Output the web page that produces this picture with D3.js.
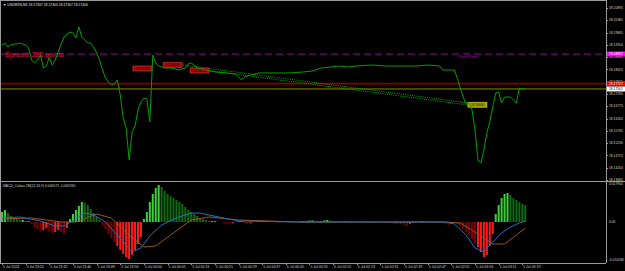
<!DOCTYPE html>
<html>
<head>
<meta charset="utf-8">
<script src="https://d3js.org/d3.v7.min.js"></script>
<style>
  body{margin:0;background:#000;}
  svg{display:block;font-family:"Liberation Sans", Arial, sans-serif;}
</style>
</head>
<body>
<svg id="chartSVG" width="625" height="271"></svg>
<script>
// ---- data ----
var symbolHeader = "\u25BC USDMXN,M1  18.17307 18.17400 18.17307 18.17400";
var macdHeader = "MACD_Colour 2M(12,26,9) 0.000571 -0.001930";
var spreadText = "Spread: 226 points";
var pivotText = "Pivot Point";

var timeLabels = ["5 Jul 2024", "5 Jul 23:24", "5 Jul 23:32", "5 Jul 23:40", "5 Jul 23:48", "5 Jul 23:56",
    "5 Jul 00:00", "5 Jul 00:05", "5 Jul 00:13", "5 Jul 00:21", "5 Jul 00:29", "5 Jul 00:37", "5 Jul 00:45",
    "5 Jul 00:53", "5 Jul 02:15", "5 Jul 02:23", "5 Jul 02:31", "5 Jul 02:39", "5 Jul 02:47", "5 Jul 02:55",
    "5 Jul 03:03", "5 Jul 03:11", "5 Jul 03:19"];
var barsPerLabel = 8;

var priceTicks = [18.20895, 18.20380, 18.19865, 18.19350, 18.18835, 18.18320, 18.17805, 18.17290,
    18.16775, 18.16260, 18.15745, 18.15230, 18.14715, 18.14200, 18.13685];

// [bar, close]
var closeSeries = [[0,18.19344],[1,18.19428],[2,18.19261],[3,18.19344],[4,18.19386],[5,18.19386],[6,18.19428],
    [7,18.19386],[8,18.19344],[9,18.19219],[10,18.18716],[11,18.18590],[12,18.18716],[13,18.18925],[14,18.18381],
    [15,18.18464],[16,18.18842],[17,18.18506],[18,18.18716],[19,18.19051],[20,18.19386],[21,18.19680],[22,18.19805],
    [23,18.19889],[24,18.19847],[25,18.19638],[26,18.20099],[27,18.19680],[28,18.19554],[29,18.19428],[30,18.19428],
    [31,18.19261],[32,18.19009],[33,18.18716],[34,18.18297],[35,18.17962],[36,18.17794],[37,18.17668],[38,18.17710],
    [39,18.17878],[40,18.17249],[41,18.16285],[42,18.15866],[43,18.14525],[44,18.15699],[45,18.15950],[46,18.16621],
    [47,18.16956],[48,18.17123],[49,18.17082],[50,18.16118],[51,18.18925],[52,18.18590],[53,18.18464],[54,18.18422],
    [55,18.18381],[57,18.18381],[60,18.18297],[62,18.18381],[63,18.18548],[64,18.18590],[65,18.18506],[66,18.18381],
    [69,18.18297],[72,18.18213],[76,18.18171],[79,18.18129],[81,18.17878],[82,18.18003],[84,18.18087],[87,18.18171],
    [92,18.18171],[97,18.18171],[102,18.18213],[105,18.18255],[108,18.18381],[111,18.18422],[114,18.18464],
    [117,18.18422],[120,18.18464],[125,18.18506],[130,18.18464],[135,18.18464],[140,18.18464],[144,18.18506],
    [148,18.18464],[149,18.18297],[153,18.18297],[154,18.17962],[155,18.17542],[156,18.17165],[157,18.16872],
    [158,18.16914],[159,18.16621],[160,18.15783],[161,18.14525],[162,18.14400],[163,18.14944],[164,18.15657],
    [165,18.16118],[166,18.16746],[167,18.17333],[168,18.17375],[169,18.16914],[170,18.17165],[172,18.17165],
    [174,18.16914],[175,18.17542],[176,18.17501],[177,18.17501]];

var askPrice = 18.17727;
var bidPrice = 18.17501;
var pivotPrice = 18.18967;

// trade price labels [bar, price, text]
var openLabels = [[44.3, 18.18360, "18.18360"], [54.5, 18.18506, "18.18506"], [63.6, 18.18276, "18.18276"]];
var closeLabels = [[157.6, 18.16840, "18.16840"]];
// trade history lines [openBar, openPrice, closeBar, closePrice]
var tradeLines = [[61.2, 18.18506, 157.6, 18.16914], [69.7, 18.18276, 157.6, 18.16830]];

// MACD histogram, one value per bar
var histValues = [0.00471,0.00565,0.00424,0.00283,0.00188,0.00141,0.00094,0.00094,0.00047,0.00047,
    -0.00094,-0.00236,-0.00330,-0.00424,-0.00377,-0.00283,-0.00424,-0.00518,-0.00471,-0.00377,
    -0.00471,-0.00565,-0.00283,0.00141,0.00377,0.00565,0.00754,0.00942,0.00895,0.00801,
    0.00612,0.00424,0.00236,0.00094,-0.00141,-0.00330,-0.00565,-0.00754,-0.00942,-0.01130,
    -0.01319,-0.01507,-0.01649,-0.01743,-0.01554,-0.01319,-0.01036,-0.00707,0.00141,0.00471,
    0.00942,0.01319,0.01601,0.01743,0.01649,0.01460,0.01319,0.01225,0.01130,0.01036,
    0.00942,0.00848,0.00707,0.00565,0.00471,0.00377,0.00283,0.00188,0.00141,0.00094,
    0.00047,0.00047,0.00047,0.00024,0,-0.00047,-0.00047,-0.00094,-0.00047,0,
    0.00047,0.00047,-0.00047,-0.00094,-0.00047,0,0,0.00024,0.00047,0.00047,
    0.00024,0,0,-0.00024,-0.00024,0,0.00024,0.00024,0,0,
    0,0.00024,0.00047,0.00047,0.00071,0.00071,0.00047,0.00024,0.00047,0.00071,
    0.00094,0.00071,0.00047,0.00024,0,0,0.00024,0,-0.00024,0,
    0,0.00024,0,0,-0.00024,-0.00024,0,0,0,-0.00024,
    -0.00047,-0.00047,-0.00071,-0.00094,-0.00094,-0.00094,-0.00141,-0.00141,-0.00094,-0.00047,
    0,0,0.00047,0,0,-0.00047,0,0,-0.00047,-0.00047,
    -0.00094,-0.00141,-0.00094,-0.00047,-0.00094,-0.00188,-0.00330,-0.00471,-0.00612,-0.00801,
    -0.00989,-0.01178,-0.01413,-0.01649,-0.01554,-0.01130,-0.00565,0.00377,0.00801,0.01130,
    0.01319,0.01366,0.01272,0.01130,0.01036,0.00942,0.00848,0.00801];

// [bar, value]
var macdMain = [[0,0.00188],[6,0.00236],[13,0.00047],[18,-0.00188],[21,-0.00188],[25,0.00141],[28,0.00424],
    [31,0.00330],[35,0],[38,-0.00471],[42,-0.01083],[44,-0.01413],[47,-0.01225],[50,-0.00659],[54,-0.00141],
    [59,0.00188],[64,0.00424],[67,0.00424],[70,0.00330],[80,0.00047],[100,0],[150,0],[153,-0.00094],
    [157,-0.00612],[160,-0.01225],[163,-0.01413],[165,-0.01083],[169,-0.00518],[172,-0.00236],[175,-0.00047],[177,0.00047]];
var macdSignal = [[0,0.00141],[10,0.00188],[20,0],[25,0],[32,0.00377],[37,0.00188],[43,-0.00612],[48,-0.01178],
    [52,-0.01130],[57,-0.00612],[64,0.00094],[70,0.00236],[80,0.00094],[100,0],[150,0],[155,-0.00047],
    [160,-0.00471],[166,-0.01036],[170,-0.01036],[174,-0.00612],[177,-0.00283]];

var macdTicks = [0.0179, 0, -0.0179];
var macdTickText = ["0.017900", "0.00", "-0.014280"];

var chart = (function(){
    var _plotRight = 606;
    var _subTop = 181;
    var _subBottom = 263;
    var _frameCol = "#9a9a9a";
    var _textCol = "#d0d0d0";
    var _deepRed = -0.011;

    var _x = d3.scaleLinear().domain([0, barsPerLabel]).range([2, 25.65]);
    var _py = d3.scaleLinear()
        .domain([priceTicks[0], priceTicks[priceTicks.length - 1]])
        .range([8, 180]);
    var _my = d3.scaleLinear().domain([-0.0179, 0.0179]).range([260, 184]);

    function _frames(svg){
        var g = svg.append("g").attr("stroke", _frameCol).attr("stroke-width", 1).attr("fill", "none");
        g.append("line").attr("x1", 0.5).attr("x2", 0.5).attr("y1", 1).attr("y2", _subBottom);
        g.append("line").attr("x1", 0).attr("x2", _plotRight).attr("y1", 0.5).attr("y2", 0.5);
        g.append("line").attr("x1", _plotRight + 0.5).attr("x2", _plotRight + 0.5).attr("y1", 0).attr("y2", _subBottom);
        g.append("line").attr("x1", 0).attr("x2", 625).attr("y1", _subTop + 0.5).attr("y2", _subTop + 0.5);
        g.append("line").attr("x1", 0).attr("x2", _plotRight).attr("y1", _subBottom + 0.5).attr("y2", _subBottom + 0.5);
    }

    function _priceAxis(svg){
        var g = svg.append("g");
        g.selectAll("line")
            .data(priceTicks)
            .enter()
            .append("line")
            .attr("x1", _plotRight).attr("x2", _plotRight + 2)
            .attr("y1", function(d){ return Math.round(_py(d)) + 0.5; })
            .attr("y2", function(d){ return Math.round(_py(d)) + 0.5; })
            .attr("stroke", _frameCol);
        g.selectAll("text")
            .data(priceTicks)
            .enter()
            .append("text")
            .attr("x", _plotRight + 3)
            .attr("y", function(d){ return _py(d) + 1.2; })
            .attr("fill", _textCol)
            .attr("font-size", 3.3)
            .text(function(d){ return d.toFixed(5); });
    }

    function _levels(svg){
        var w = _plotRight;
        svg.append("line").attr("x1", 1).attr("x2", w)
            .attr("y1", _py(pivotPrice)).attr("y2", _py(pivotPrice))
            .attr("stroke", "#a000a0").attr("stroke-width", 1.2).attr("stroke-dasharray", "7,4");
        svg.append("line").attr("x1", 1).attr("x2", w)
            .attr("y1", _py(askPrice)).attr("y2", _py(askPrice))
            .attr("stroke", "#8a0000").attr("stroke-width", 1.6);
        svg.append("line").attr("x1", 1).attr("x2", w)
            .attr("y1", _py(bidPrice)).attr("y2", _py(bidPrice))
            .attr("stroke", "#8c8c00").attr("stroke-width", 1);

        svg.append("text").attr("x", _x(154.5)).attr("y", _py(pivotPrice) + 4.5)
            .attr("fill", "#c000c0").attr("font-size", 4).text(pivotText);
        svg.append("text").attr("x", 5).attr("y", _py(pivotPrice) + 3)
            .attr("fill", "#e0143c").attr("font-size", 7).text(spreadText);
    }

    function _levelBoxes(svg){
        var boxes = [[pivotPrice, "#ff00ff", "#ffffff"], [askPrice, "#ff0000", "#ffffff"], [bidPrice, "#ffffff", "#000000"]];
        var g = svg.append("g");
        g.selectAll("rect")
            .data(boxes)
            .enter()
            .append("rect")
            .attr("x", _plotRight + 1)
            .attr("y", function(d){ return _py(d[0]) - 2.5; })
            .attr("width", 18).attr("height", 5)
            .attr("fill", function(d){ return d[1]; });
        g.selectAll("text")
            .data(boxes)
            .enter()
            .append("text")
            .attr("x", _plotRight + 3)
            .attr("y", function(d){ return _py(d[0]) + 1.2; })
            .attr("fill", function(d){ return d[2]; })
            .attr("font-size", 3.3)
            .text(function(d){ return d[0].toFixed(5); });
    }

    function _trades(svg){
        svg.selectAll(".tradeLine")
            .data(tradeLines)
            .enter()
            .append("line")
            .attr("class", "tradeLine")
            .attr("x1", function(d){ return _x(d[0]); })
            .attr("y1", function(d){ return _py(d[1]); })
            .attr("x2", function(d){ return _x(d[2]); })
            .attr("y2", function(d){ return _py(d[3]); })
            .attr("stroke", "#00b000").attr("stroke-dasharray", "1,1.2");

        function drawLabels(list, fill, stroke, txt){
            var g = svg.append("g");
            g.selectAll("rect").data(list).enter().append("rect")
                .attr("x", function(d){ return _x(d[0]); })
                .attr("y", function(d){ return _py(d[1]) - 2.5; })
                .attr("width", 19).attr("height", 5)
                .attr("fill", fill).attr("stroke", stroke).attr("stroke-width", 0.6);
            g.selectAll("text").data(list).enter().append("text")
                .attr("x", function(d){ return _x(d[0]) + 3; })
                .attr("y", function(d){ return _py(d[1]) + 1.1; })
                .attr("fill", txt).attr("font-size", 3.2)
                .text(function(d){ return d[2]; });
        }
        drawLabels(openLabels, "#9a0a0a", "#e03030", "#2a0000");
        drawLabels(closeLabels, "#a0a000", "#d0d030", "#202000");
    }

    function _priceLine(svg){
        var line = d3.line()
            .x(function(d){ return _x(d[0]); })
            .y(function(d){ return _py(d[1]); });
        svg.append("path")
            .datum(closeSeries)
            .attr("d", line)
            .attr("fill", "none")
            .attr("stroke", "#00a000")
            .attr("stroke-width", 1);
    }

    function _macd(svg){
        var zero = _my(0);
        svg.selectAll(".histBar")
            .data(histValues)
            .enter()
            .append("rect")
            .attr("class", "histBar")
            .attr("x", function(d, i){ return _x(i) - 1; })
            .attr("y", function(d){ return Math.min(_my(d), zero); })
            .attr("width", 2)
            .attr("height", function(d){ return Math.abs(_my(d) - zero); })
            .attr("fill", function(d, i){
                var prev = i > 0 ? histValues[i - 1] : d;
                if (d >= 0) return d >= prev ? "#3ccf3c" : "#0f6a0f";
                return (d > prev || d < _deepRed) ? "#ff1a1a" : "#7a0000";
            });

        var line = d3.line()
            .x(function(d){ return _x(d[0]); })
            .y(function(d){ return _my(d[1]); });
        svg.append("path").datum(macdSignal).attr("d", line)
            .attr("fill", "none").attr("stroke", "#a0521e").attr("stroke-width", 1);
        svg.append("path").datum(macdMain).attr("d", line)
            .attr("fill", "none").attr("stroke", "#2270c0").attr("stroke-width", 1);

        svg.append("text").attr("x", 3).attr("y", 186.5)
            .attr("fill", _textCol).attr("font-size", 3.4).text(macdHeader);

        var g = svg.append("g");
        g.selectAll("text")
            .data(macdTicks)
            .enter()
            .append("text")
            .attr("x", _plotRight + 3)
            .attr("y", function(d){ return _my(d) + 1.2; })
            .attr("fill", _textCol)
            .attr("font-size", 3.3)
            .text(function(d, i){ return macdTickText[i]; });
    }

    function _timeAxis(svg){
        var g = svg.append("g");
        g.selectAll("line")
            .data(timeLabels)
            .enter()
            .append("line")
            .attr("x1", function(d, i){ return Math.round(_x(i * barsPerLabel)) + 0.5; })
            .attr("x2", function(d, i){ return Math.round(_x(i * barsPerLabel)) + 0.5; })
            .attr("y1", _subBottom).attr("y2", _subBottom + 2)
            .attr("stroke", _frameCol);
        g.selectAll("text")
            .data(timeLabels)
            .enter()
            .append("text")
            .attr("x", function(d, i){ return _x(i * barsPerLabel) + 1; })
            .attr("y", 267.5)
            .attr("fill", _textCol)
            .attr("font-size", 3.5)
            .text(function(d){ return d; });
    }

    function _draw(){
        var svg = d3.select("#chartSVG");
        svg.append("rect").attr("width", 625).attr("height", 271).attr("fill", "#000");
        _levels(svg);
        _trades(svg);
        _priceLine(svg);
        _macd(svg);
        _priceAxis(svg);
        _levelBoxes(svg);
        _frames(svg);
        _timeAxis(svg);
        svg.append("text").attr("x", 3).attr("y", 5.5)
            .attr("fill", "#e0e0e0").attr("font-size", 3.4).text(symbolHeader);
    }

    return {
        draw: _draw
    };
})();

chart.draw();
</script>
</body>
</html>
